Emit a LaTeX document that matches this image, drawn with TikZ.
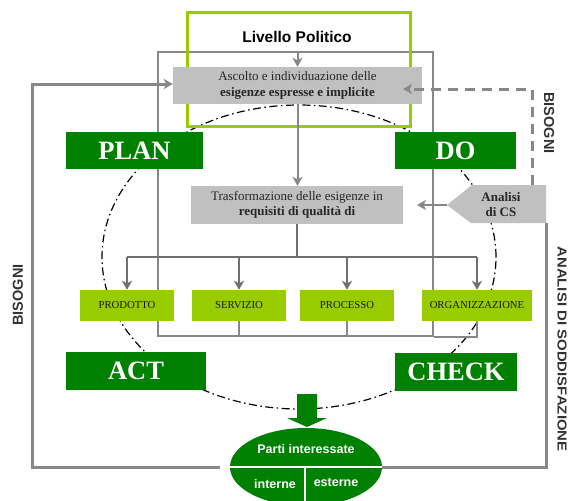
\documentclass[tikz,border=0pt]{standalone}
\usepackage{fontspec}
\setmainfont{Liberation Serif}
\setsansfont{Liberation Sans}
\usetikzlibrary{arrows.meta,shapes.geometric}
\definecolor{pdgreen}{HTML}{008000}
\definecolor{lime}{HTML}{99CC00}
\definecolor{boxgray}{HTML}{C0C0C0}
\definecolor{linegray}{HTML}{878787}
\definecolor{darkline}{HTML}{707070}
\definecolor{labelgray}{HTML}{333333}

\begin{document}
\begin{tikzpicture}[x=1pt,y=-1pt,
  phase/.style={fill=pdgreen, text=white, font=\fontsize{26.5}{28}\selectfont\bfseries,
    inner sep=0pt, minimum height=37pt},
  target/.style={fill=lime, font=\fontsize{10.7}{12}\selectfont, text=black!90,
    minimum width=94pt, minimum height=31pt, inner sep=0pt},
  graybox/.style={fill=boxgray, align=center, font=\fontsize{13}{15.5}\selectfont,
    text=black!85, inner sep=0pt},
  frameline/.style={draw=linegray, line width=2pt},
  branchline/.style={draw=darkline, line width=2.5pt},
  outerline/.style={draw=linegray, line width=3pt},
  tip/.style={-{Stealth[length=9pt,width=10pt,inset=2.5pt]}},
  sidelabel/.style={font=\fontsize{14.5}{16}\selectfont\sffamily\bfseries, text=labelgray},
  cycleline/.style={draw=black, line width=1.2pt,
    dash pattern=on 8pt off 3.5pt on 1.5pt off 3.5pt},
  partitext/.style={text=white, font=\fontsize{12.5}{14}\selectfont\sffamily\bfseries}
]
\useasboundingbox (0,0) rectangle (568,501);

% PDCA cycle drawn behind everything else
\draw[cycleline] (299,257) ellipse [x radius=197pt, y radius=152pt];

% organisation frame and political level
\node[frameline, minimum width=275pt, minimum height=284pt, inner sep=0pt] (frame) at (295.5,194) {};
\node[draw=lime, line width=3pt, minimum width=223pt, minimum height=114pt, inner sep=0pt] (politico) at (298.5,69) {};
\node[sidelabel, font=\fontsize{15.5}{17}\selectfont\sffamily\bfseries, text=black] (politicolabel) at (297,37) {Livello Politico};

% process boxes
\node[graybox, minimum width=249pt, minimum height=37pt] (ascolto) at (297.5,85.5)
  {Ascolto e individuazione delle\\\textbf{esigenze espresse e implicite}};
\node[graybox, minimum width=212pt, minimum height=38pt] (trasf) at (297,205)
  {Trasformazione delle esigenze in\\\textbf{requisiti di qualità di}};

% PDCA phases
\node[phase, minimum width=137pt] (plan) at (134.5,150.5) {PLAN};
\node[phase, minimum width=121pt] (do) at (455.5,150.5) {DO};
\node[phase, minimum width=140pt, minimum height=38pt] (act) at (136,371) {ACT};
\node[phase, minimum width=122pt, minimum height=38pt] (check) at (456,372) {CHECK};

% quality targets
\node[target] (prodotto) at (127,305.5) {PRODOTTO};
\node[target] (servizio) at (239,305.5) {SERVIZIO};
\node[target] (processo) at (347,305.5) {PROCESSO};
\node[target, minimum width=110pt] (org) at (477,305.5) {ORGANIZZAZIONE};

% customer satisfaction analysis
\fill[boxgray] (447,205) -- (472,185) -- (546,185) -- (546,223) -- (471,223) -- cycle;
\coordinate (cstip) at (447,205);
\coordinate (cstop) at (532,185);
\coordinate (csbottom) at (546,223);
\node[align=center, font=\fontsize{13}{15}\selectfont\bfseries, text=black!85] (analisi) at (501,205) {Analisi\\di CS};

% flow inside the frame
\draw[frameline, tip] (ascolto.north |- frame.north) -- (ascolto.north);
\draw[frameline, tip] (ascolto.south) -- (ascolto.south |- trasf.north);
\coordinate (branch) at (297,257);
\draw[branchline] (trasf.south) -- (branch);
\draw[branchline] (prodotto.north |- branch) -- (org.north |- branch);
\foreach \b in {prodotto,servizio,processo,org}
  \draw[branchline, tip] (\b.north |- branch) -- (\b.north);
\draw[frameline] (frame.south east) -- (org.south |- frame.south) -- (org.south);
\draw[frameline] (servizio.south) -- (servizio.south |- frame.south);
\draw[frameline] (processo.south) -- (processo.south |- frame.south);

% interested parties
\fill[pdgreen] (297,394) -- (317,394) -- (317,418) -- (327,418) -- (307,427)
  -- (287,418) -- (297,418) -- cycle;
\node[ellipse, fill=pdgreen, minimum width=152pt, minimum height=78pt, inner sep=0pt] (parti) at (306,467) {};
\draw[white, line width=1.6pt] (parti.west) -- (parti.east);
\draw[white, line width=1.6pt] (305,467) -- (305,506);
\node[partitext] (partitxt) at (306,449) {Parti interessate};
\node[partitext] (interne) at (275,484) {interne};
\node[partitext] (esterne) at (336,482) {esterne};

% feedback loops
\draw[outerline, tip] ([xshift=-10pt]parti.west) -| (32,84) -- (ascolto.west |- 0,84);
\draw[outerline] (csbottom) |- (parti.east);
\draw[draw=linegray, line width=3pt, dash pattern=on 10pt off 7pt, tip] (cstop) |- (403,89);
\draw[draw=linegray, line width=2.5pt, tip] (cstip) -- (417,205);

% side labels
\node[sidelabel, rotate=90] (bisognileft) at (18,295) {BISOGNI};
\node[sidelabel, rotate=-90] (bisogniright) at (549,123) {BISOGNI};
\node[sidelabel, font=\fontsize{13}{15}\selectfont\sffamily\bfseries, rotate=-90] (soddisfazione) at (562,349)
  {\scalebox{1.15}[1]{ANALISI DI SODDISFAZIONE}};
\end{tikzpicture}
\end{document}
